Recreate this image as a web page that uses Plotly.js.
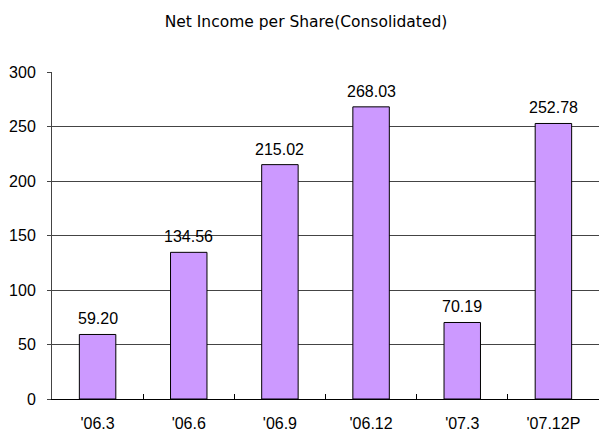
<!DOCTYPE html>
<html><head><meta charset="utf-8">
<script src="https://cdn.plot.ly/plotly-3.0.1.min.js"></script>
<style>html,body{margin:0;padding:0;background:#fff}</style>
</head><body>
<div id="chart" style="width:600px;height:432px"></div>
<script>
const categories = ["'06.3", "'06.6", "'06.9", "'06.12", "'07.3", "'07.12P"];
const values = [59.20, 134.56, 215.02, 268.03, 70.19, 252.78];
const labels = ["59.20", "134.56", "215.02", "268.03", "70.19", "252.78"];
const yTicks = [0, 50, 100, 150, 200, 250, 300];

const trace = {
  type: 'bar',
  x: categories,
  y: values,
  width: 0.4,
  marker: {color: '#CC99FF', line: {color: '#000', width: 1}},
  hoverinfo: 'none'
};

const annotations = categories.map((c, i) => ({
  x: c, y: values[i], xref: 'x', yref: 'y',
  text: labels[i], showarrow: false, xanchor: 'center', yanchor: 'bottom', yshift: 5,
  font: {family: 'Liberation Sans, Arial, sans-serif', size: 16, color: '#000'}
}));

const layout = {
  width: 600, height: 432,
  margin: {l: 52, r: 1, t: 72, b: 33},
  paper_bgcolor: '#fff', plot_bgcolor: '#fff',
  showlegend: false,
  annotations: annotations,
  title: {text: 'Net Income per Share(Consolidated)', x: 306/600, xref: 'container', xanchor: 'center',
          y: 1 - 22/432, yref: 'container', yanchor: 'middle',
          font: {family: 'DejaVu Sans, sans-serif', size: 15.5, color: '#000'}},
  xaxis: {
    type: 'category', tickson: 'boundaries', ticks: 'inside', ticklen: 5, tickcolor: '#000',
    showline: true, linecolor: '#000', linewidth: 1, showgrid: false,
    tickfont: {family: 'Liberation Sans, Arial, sans-serif', size: 16, color: '#000'},
    ticklabelstandoff: 10, fixedrange: true
  },
  yaxis: {
    range: [0, 300], tickvals: yTicks, ticktext: yTicks.map(String),
    ticks: 'outside', ticklen: 4, tickcolor: '#444',
    showline: true, linecolor: '#444', linewidth: 1,
    showgrid: true, gridcolor: '#444', gridwidth: 1, zeroline: false,
    tickfont: {family: 'Liberation Sans, Arial, sans-serif', size: 16, color: '#000'},
    ticklabelstandoff: 8, fixedrange: true
  },
  bargap: 0.6
};

Plotly.newPlot('chart', [trace], layout, {displayModeBar: false, staticPlot: true});
</script>
</body></html>
